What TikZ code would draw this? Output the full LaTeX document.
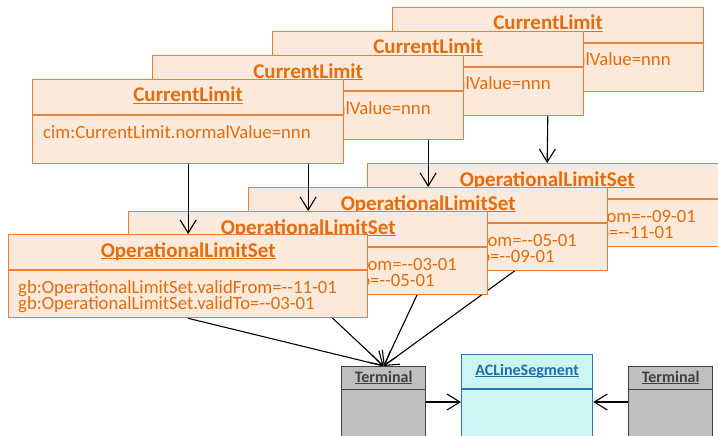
\documentclass[tikz,border=0pt]{standalone}
\usepackage{fontspec}
\setmainfont{Carlito}
\usetikzlibrary{arrows.meta}
\definecolor{orbd}{HTML}{ED7D31}
\definecolor{orfill}{HTML}{FBE9DB}
\definecolor{ortext}{HTML}{E46C0A}
\definecolor{grfill}{HTML}{BFBFBF}
\definecolor{grbd}{HTML}{404040}
\definecolor{cyfill}{HTML}{CCF5F5}
\definecolor{cybd}{HTML}{2E75B6}
\definecolor{cytext}{HTML}{1F6FA8}
\newcommand\myul[1]{\setbox0\hbox{#1}\rlap{\rule[-2.2pt]{\wd0}{1.1pt}}\box0}
\pgfdeclarelayer{bg}
\pgfsetlayers{bg,main}
\tikzset{
  obox/.style={draw=orbd, fill=orfill, line width=1.3pt, inner sep=0pt, rectangle},
  obord/.style={draw=orbd, line width=1.3pt},
  otitle/.style={text=ortext, font=\fontsize{21}{24}\selectfont\bfseries, inner sep=0pt},
  oattr/.style={text=ortext, font=\fontsize{18.7}{22}\selectfont, inner sep=0pt},
  gbox/.style={draw=grbd, fill=grfill, line width=1.3pt, inner sep=0pt, rectangle},
  cbox/.style={draw=cybd, fill=cyfill, line width=1.3pt, inner sep=0pt, rectangle},
  smtitle/.style={font=\fontsize{16}{19}\selectfont\bfseries, inner sep=0pt},
  conn/.style={draw=black, line width=1.1pt, -{Straight Barb[length=13pt,width=16pt,line width=1.1pt]}},
}
\newcommand\clbox[3]{%
  \node[obox, minimum width=311pt, minimum height=84pt, anchor=north west] (#1) at (#2,#3) {};
  \draw[obord] ([yshift=-36pt]#1.north west) -- ([yshift=-36pt]#1.north east);
  \node[otitle, anchor=base] (#1t) at ([yshift=-23pt]#1.north) {\myul{CurrentLimit}};
  \node[oattr, anchor=base west] (#1a) at ([xshift=11pt,yshift=-59pt]#1.north west) {cim:CurrentLimit.normalValue=nnn};
}
\newcommand\olsbox[5]{%
  \node[obox, minimum width=359pt, minimum height=83pt, anchor=north west] (#1) at (#2,#3) {};
  \draw[obord] ([yshift=-36pt]#1.north west) -- ([yshift=-36pt]#1.north east);
  \node[otitle, anchor=base] (#1t) at ([yshift=-23pt]#1.north) {\myul{OperationalLimitSet}};
  \node[oattr, anchor=base west] (#1f) at ([xshift=10pt,yshift=-59.5pt]#1.north west) {gb:OperationalLimitSet.validFrom=#4};
  \node[oattr, anchor=base west] (#1u) at ([xshift=10pt,yshift=-75.5pt]#1.north west) {gb:OperationalLimitSet.validTo=#5};
}
\begin{document}
\begin{tikzpicture}[x=1pt,y=-1pt]
\useasboundingbox (0,0) rectangle (718,436);
\clip (0,0) rectangle (718,436);
% bottom boxes
\node[gbox, minimum width=84pt, minimum height=90pt, anchor=north west] (term1) at (341,366) {};
\draw[draw=grbd, line width=1.3pt] ([yshift=-23.5pt]term1.north west) -- ([yshift=-23.5pt]term1.north east);
\node[smtitle, text=grbd, anchor=base] (term1t) at ([yshift=-16pt]term1.north) {\myul{Terminal}};
\node[gbox, minimum width=84pt, minimum height=90pt, anchor=north west] (term2) at (628,366) {};
\draw[draw=grbd, line width=1.3pt] ([yshift=-23.5pt]term2.north west) -- ([yshift=-23.5pt]term2.north east);
\node[smtitle, text=grbd, anchor=base] (term2t) at ([yshift=-16pt]term2.north) {\myul{Terminal}};
\node[cbox, minimum width=131pt, minimum height=100pt, anchor=north west] (ac) at (461,354) {};
\draw[draw=cybd, line width=1.3pt] ([yshift=-35pt]ac.north west) -- ([yshift=-35pt]ac.north east);
\node[smtitle, text=cytext, anchor=base] (act) at ([yshift=-21pt]ac.north) {\myul{ACLineSegment}};
\draw[conn] ([yshift=-36pt]term1.north east) -- ([yshift=-48pt]ac.north west);
\draw[conn] ([yshift=-36pt]term2.north west) -- ([yshift=-48pt]ac.north east);
% operational limit sets
\olsbox{ols4}{367}{163}{-{}-09-01}{-{}-11-01}
\olsbox{ols3}{248}{187}{-{}-05-01}{-{}-09-01}
\olsbox{ols2}{128}{211}{-{}-03-01}{-{}-05-01}
\olsbox{ols1}{8}{234}{-{}-11-01}{-{}-03-01}
\begin{pgfonlayer}{bg}
\draw[conn] (ols1.south) -- (term1.north);
\draw[conn] (ols2.south) -- (term1.north);
\draw[conn] (ols3.south) -- (term1.north);
\draw[conn] (ols4.south) -- (term1.north);
\end{pgfonlayer}
% current limits
\clbox{cl4}{392}{7}
\draw[conn] (cl4.south) -- (ols4.north);
\clbox{cl3}{272}{31}
\draw[conn] (cl3.south) -- (ols3.north);
\clbox{cl2}{152}{55}
\draw[conn] (cl2.south) -- (ols2.north);
\clbox{cl1}{32}{79}
\draw[conn] (cl1.south) -- (ols1.north);
\end{tikzpicture}
\end{document}
